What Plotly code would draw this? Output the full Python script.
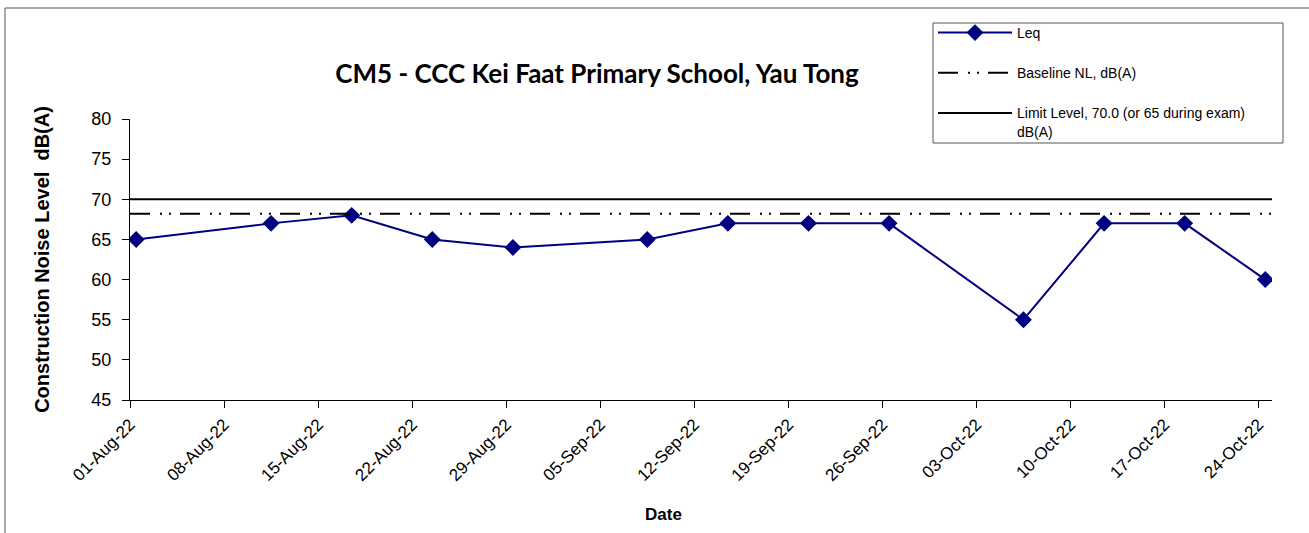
import plotly.graph_objects as go

dates = ["2022-08-01 11:00", "2022-08-11 12:00", "2022-08-17 12:00", "2022-08-23 12:00",
         "2022-08-29 12:00", "2022-09-08 12:00", "2022-09-14 12:00", "2022-09-20 12:00",
         "2022-09-26 12:00", "2022-10-06 12:00", "2022-10-12 12:00", "2022-10-18 12:00",
         "2022-10-24 12:00"]
leq = [65, 67, 68, 65, 64, 65, 67, 67, 67, 55, 67, 67, 60]
baseline_level = 68.2
limit_level = 70.0
x_start = "2022-08-01"
x_end = "2022-10-25"
tick_dates = ["2022-08-01", "2022-08-08", "2022-08-15", "2022-08-22", "2022-08-29",
              "2022-09-05", "2022-09-12", "2022-09-19", "2022-09-26", "2022-10-03",
              "2022-10-10", "2022-10-17", "2022-10-24"]
tick_labels = ["01-Aug-22", "08-Aug-22", "15-Aug-22", "22-Aug-22", "29-Aug-22",
               "05-Sep-22", "12-Sep-22", "19-Sep-22", "26-Sep-22", "03-Oct-22",
               "10-Oct-22", "17-Oct-22", "24-Oct-22"]
y_ticks = [45, 50, 55, 60, 65, 70, 75, 80]

W, H = 1309, 533
L, R, T, B = 130, 1272, 119, 400

def px(x):
    return (x - L) / (R - L)

def py(y):
    return (B - y) / (B - T)

fig = go.Figure()
fig.add_trace(go.Scatter(
    x=dates, y=leq, mode="lines+markers", name="Leq",
    line=dict(color="#000080", width=2),
    marker=dict(symbol="diamond", size=13, color="#000080"),
    legendgroup="a",
))
fig.add_trace(go.Scatter(
    x=[x_start, x_end], y=[baseline_level, baseline_level], mode="lines",
    name="Baseline NL, dB(A)",
    line=dict(color="black", width=2, dash="20px,10px,2px,7px,2px,9px"),
    legendgroup="b",
))
fig.add_trace(go.Scatter(
    x=[x_start, x_end], y=[limit_level, limit_level], mode="lines",
    name="Limit Level, 70.0 (or 65 during exam)<br>dB(A)",
    line=dict(color="black", width=2),
    legendgroup="c",
))

fig.update_layout(
    width=W, height=H,
    margin=dict(l=L, r=W - R, t=T, b=H - B, pad=0),
    paper_bgcolor="white", plot_bgcolor="white",
    font=dict(family="Arial, Liberation Sans, sans-serif", color="black"),
    title=dict(text="<b>CM5 - CCC Kei Faat Primary School, Yau Tong</b>",
               xref="container", x=597 / W, xanchor="center",
               yref="container", y=1 - 74 / H, yanchor="middle",
               font=dict(family="Lato, sans-serif", size=26, color="black")),
    showlegend=True,
    legend=dict(x=px(933), xanchor="left", y=py(17), yanchor="top",
                borderwidth=0, bgcolor="rgba(0,0,0,0)",
                font=dict(size=14, family="Arial, Liberation Sans, sans-serif"),
                tracegroupgap=19, itemwidth=74, valign="top"),
    xaxis=dict(type="date", range=[x_start, x_end],
               tickvals=tick_dates, ticktext=tick_labels, tickangle=-45,
               showline=True, linecolor="black", linewidth=1,
               ticks="outside", ticklen=7, tickcolor="black",
               showgrid=False, zeroline=False,
               tickfont=dict(size=17)),
    yaxis=dict(range=[45, 80], tickvals=y_ticks,
               showline=True, linecolor="black", linewidth=1,
               ticks="outside", ticklen=7, tickcolor="black",
               showgrid=False, zeroline=False,
               tickfont=dict(size=18), ticklabelstandoff=7,
               title=dict(text="<b>Construction Noise Level  dB(A)</b>", font=dict(size=20), standoff=36)),
)

fig.add_annotation(text="<b>Date</b>", xref="paper", yref="paper",
                   x=px(663), y=py(514), xanchor="center", yanchor="middle",
                   showarrow=False, font=dict(size=17, color="black"))

# legend frame
fig.add_shape(type="rect", xref="paper", yref="paper",
              x0=px(933), x1=px(1283), y0=py(23), y1=py(143),
              line=dict(color="#555", width=1), layer="below")
# chart-area border
fig.add_shape(type="line", xref="paper", yref="paper",
              x0=px(5), x1=px(1309), y0=py(8), y1=py(8),
              line=dict(color="#555", width=1))
fig.add_shape(type="line", xref="paper", yref="paper",
              x0=px(5), x1=px(5), y0=py(8), y1=py(533),
              line=dict(color="#555", width=1))

fig.write_html("out.html", config={"displayModeBar": False},
               post_script="document.body.style.margin='0';document.body.style.overflow='hidden';")
